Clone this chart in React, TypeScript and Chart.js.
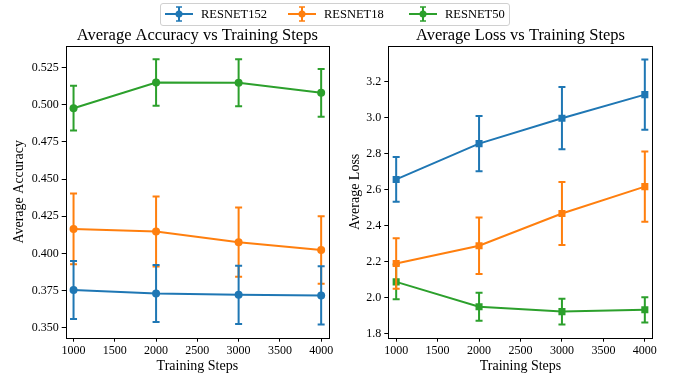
import React, { useEffect, useRef } from 'react';
import { Chart, registerables } from 'chart.js';
Chart.register(...registerables);

const FONT = "'Liberation Serif', 'Times New Roman', serif";

const STEPS = [1000, 2000, 3000, 4000];
const SERIES = ['RESNET152', 'RESNET18', 'RESNET50'];
const COLORS = ['#1f77b4', '#ff7f0e', '#2ca02c'];

const ACC_R152 = [0.3755, 0.3731, 0.3722, 0.3718];
const ACC_R152_ERR = [0.0195, 0.0192, 0.0196, 0.0196];
const ACC_R18 = [0.4165, 0.4148, 0.4076, 0.4024];
const ACC_R18_ERR = [0.0238, 0.0235, 0.0233, 0.0227];
const ACC_R50 = [0.4977, 0.515, 0.5148, 0.508];
const ACC_R50_ERR = [0.015, 0.0156, 0.0158, 0.016];

const LOSS_R152 = [2.657, 2.856, 2.997, 3.128];
const LOSS_R152_ERR = [0.124, 0.153, 0.173, 0.195];
const LOSS_R18 = [2.19, 2.289, 2.468, 2.617];
const LOSS_R18_ERR = [0.14, 0.157, 0.175, 0.195];
const LOSS_R50 = [2.088, 1.95, 1.923, 1.933];
const LOSS_R50_ERR = [0.096, 0.078, 0.071, 0.07];

const X_TICKS = [1000, 1500, 2000, 2500, 3000, 3500, 4000];
const ACC_TICKS = [0.35, 0.375, 0.4, 0.425, 0.45, 0.475, 0.5, 0.525];
const LOSS_TICKS = [1.8, 2.0, 2.2, 2.4, 2.6, 2.8, 3.0, 3.2];

const X_RANGE = [905, 4095];
const ACC_RANGE = [0.3434, 0.5395];
const LOSS_RANGE = [1.778, 3.398];

const errorBarPlugin = {
  id: 'errorBars',
  beforeDatasetDraw(chart: any, args: any) {
    const ds = chart.data.datasets[args.index];
    const errs = ds.errorBars;
    if (!errs) return;
    const xs = chart.scales.x;
    const ys = chart.scales.y;
    const ctx = chart.ctx;
    ctx.save();
    ctx.strokeStyle = ds.borderColor;
    ctx.lineWidth = 2;
    ds.data.forEach((p: any, i: number) => {
      const x = xs.getPixelForValue(p.x);
      const yt = ys.getPixelForValue(p.y + errs[i]);
      const yb = ys.getPixelForValue(p.y - errs[i]);
      ctx.beginPath();
      ctx.moveTo(x, yt);
      ctx.lineTo(x, yb);
      ctx.moveTo(x - 3.5, yt);
      ctx.lineTo(x + 3.5, yt);
      ctx.moveTo(x - 3.5, yb);
      ctx.lineTo(x + 3.5, yb);
      ctx.stroke();
    });
    ctx.restore();
  },
};

const framePlugin = {
  id: 'frame',
  afterDraw(chart: any) {
    const { left, top, right, bottom } = chart.chartArea;
    const ctx = chart.ctx;
    ctx.save();
    ctx.strokeStyle = '#000';
    ctx.lineWidth = 1;
    ctx.strokeRect(Math.round(left) + 0.5, Math.round(top) + 0.5, Math.round(right - left), Math.round(bottom - top));
    const t = chart.options.plugins.axesTitle;
    if (t && t.text) {
      ctx.fillStyle = '#000';
      ctx.font = `normal 16.5px ${FONT}`;
      ctx.textAlign = 'center';
      ctx.textBaseline = 'middle';
      ctx.fillText(t.text, (left + right) / 2, 36);
    }
    ctx.restore();
  },
};

function makeConfig(opts: any) {
  const datasets = opts.values.map((vals: number[], k: number) => ({
    label: SERIES[k],
    data: STEPS.map((s, i) => ({ x: s, y: vals[i] })),
    errorBars: opts.errors[k],
    borderColor: COLORS[k],
    backgroundColor: COLORS[k],
    borderWidth: 2,
    pointStyle: opts.pointStyle,
    pointRadius: opts.pointRadius,
    pointBorderWidth: 0,
    tension: 0,
    fill: false,
  }));
  return {
    type: 'line',
    data: { datasets },
    plugins: [errorBarPlugin, framePlugin],
    options: {
      responsive: false,
      animation: false,
      layout: { padding: { left: 0, right: opts.rightPad, top: 46, bottom: 0 } },
      plugins: {
        legend: { display: false },
        tooltip: { enabled: false },
        title: { display: false },
        axesTitle: { text: opts.title },
      },
      scales: {
        x: {
          type: 'linear',
          min: X_RANGE[0],
          max: X_RANGE[1],
          afterBuildTicks: (s: any) => { s.ticks = X_TICKS.map((v) => ({ value: v })); },
          afterFit: (s: any) => { s.height = 39.3; },
          grid: { drawOnChartArea: false, drawTicks: true, tickLength: 4, color: '#000' },
          border: { display: false },
          ticks: {
            color: '#000',
            font: { family: FONT, size: 12 },
            padding: 2,
            maxRotation: 0,
            autoSkip: false,
            callback: (v: number) => String(v),
          },
          title: {
            display: true,
            text: 'Training Steps',
            color: '#000',
            font: { family: FONT, size: 14 },
            padding: { top: 0, bottom: 1.9 },
          },
        },
        y: {
          type: 'linear',
          min: opts.range[0],
          max: opts.range[1],
          afterBuildTicks: (s: any) => { s.ticks = opts.ticks.map((v: number) => ({ value: v })); },
          afterFit: (s: any) => { s.width = opts.yWidth; },
          grid: { drawOnChartArea: false, drawTicks: true, tickLength: 4, color: '#000' },
          border: { display: false },
          ticks: {
            color: '#000',
            font: { family: FONT, size: 12 },
            padding: 3,
            autoSkip: false,
            callback: (v: number) => Number(v).toFixed(opts.decimals),
          },
          title: {
            display: true,
            text: opts.yLabel,
            color: '#000',
            font: { family: FONT, size: 14 },
            padding: { top: 10.6, bottom: 0 },
          },
        },
      },
    },
  };
}

function ChartCanvas(props: any) {
  const ref = useRef<HTMLCanvasElement>(null);
  useEffect(() => {
    const chart = new Chart(ref.current as HTMLCanvasElement, makeConfig(props.cfg) as any);
    return () => chart.destroy();
  }, []);
  return (
    <canvas
      ref={ref}
      width={props.width}
      height={377}
      style={{ position: 'absolute', left: props.left, top: 0, width: props.width, height: 377 }}
    />
  );
}

function LegendMarker({ color }: { color: string }) {
  return (
    <svg width={28} height={22} style={{ display: 'block' }}>
      <line x1={0} y1={11} x2={28} y2={11} stroke={color} strokeWidth={2} />
      <line x1={14} y1={4} x2={14} y2={18} stroke={color} strokeWidth={2} />
      <line x1={11} y1={4} x2={17} y2={4} stroke={color} strokeWidth={1.5} />
      <line x1={11} y1={18} x2={17} y2={18} stroke={color} strokeWidth={1.5} />
      <circle cx={14} cy={11} r={3.5} fill={color} />
    </svg>
  );
}

const LEGEND_X = [165, 288, 409];

export default function App() {
  return (
    <div style={{ position: 'fixed', left: 0, top: 0, width: 673, height: 377, background: '#fff', overflow: 'hidden' }}>
      <ChartCanvas
        left={0}
        width={336}
        cfg={{
          title: 'Average Accuracy vs Training Steps',
          yLabel: 'Average Accuracy',
          values: [ACC_R152, ACC_R18, ACC_R50],
          errors: [ACC_R152_ERR, ACC_R18_ERR, ACC_R50_ERR],
          ticks: ACC_TICKS,
          range: ACC_RANGE,
          decimals: 3,
          pointStyle: 'circle',
          pointRadius: 4,
          rightPad: 7,
          yWidth: 65.7,
        }}
      />
      <ChartCanvas
        left={336}
        width={337}
        cfg={{
          title: 'Average Loss vs Training Steps',
          yLabel: 'Average Loss',
          values: [LOSS_R152, LOSS_R18, LOSS_R50],
          errors: [LOSS_R152_ERR, LOSS_R18_ERR, LOSS_R50_ERR],
          ticks: LOSS_TICKS,
          range: LOSS_RANGE,
          decimals: 1,
          pointStyle: 'rect',
          pointRadius: 5,
          rightPad: 20.3,
          yWidth: 52.3,
        }}
      />
      <div
        style={{
          position: 'absolute',
          left: 160,
          top: 3,
          width: 348,
          height: 21,
          border: '1px solid #d0d0d0',
          borderRadius: 3,
          background: '#fff',
        }}
      />
      {SERIES.map((name, k) => (
        <div
          key={name}
          style={{ position: 'absolute', left: LEGEND_X[k], top: 3, height: 22, display: 'flex', alignItems: 'center' }}
        >
          <LegendMarker color={COLORS[k]} />
          <span style={{ marginLeft: 8, fontFamily: FONT, fontSize: 12.5, color: '#000', lineHeight: '22px' }}>{name}</span>
        </div>
      ))}
    </div>
  );
}
